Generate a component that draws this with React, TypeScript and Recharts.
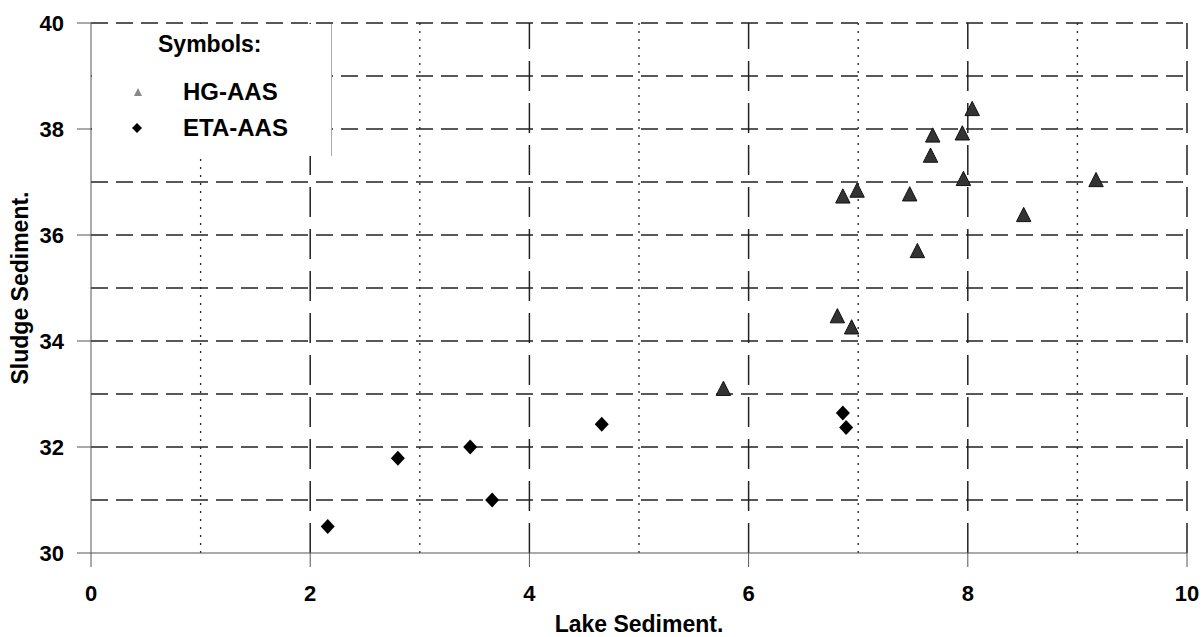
import React from "react";
import { ScatterChart, Scatter, XAxis, YAxis, ReferenceLine } from "recharts";

const hgX = [5.77, 6.81, 6.94, 6.86, 6.99, 7.47, 7.54, 7.66, 7.68, 7.95, 7.96, 8.04, 8.51, 9.17];
const hgY = [33.1, 34.47, 34.26, 36.73, 36.84, 36.77, 35.7, 37.5, 37.88, 37.92, 37.06, 38.38, 36.38, 37.04];
const etaX = [2.16, 2.8, 3.46, 3.66, 4.66, 6.86, 6.89];
const etaY = [30.5, 31.79, 32.0, 31.0, 32.43, 32.64, 32.37];

const xTicks = [0, 2, 4, 6, 8, 10];
const yTicks = [30, 32, 34, 36, 38, 40];
const majorX = [2, 4, 6, 8, 10];
const minorX = [1, 3, 5, 7, 9];
const gridY = [31, 32, 33, 34, 35, 36, 37, 38, 39, 40];

const xLabel = "Lake Sediment.";
const yLabel = "Sludge Sediment.";
const legendTitle = "Symbols:";
const seriesNames = ["HG-AAS", "ETA-AAS"];

const hgData = hgX.map((x, i) => ({ x, y: hgY[i] }));
const etaData = etaX.map((x, i) => ({ x, y: etaY[i] }));

const FONT = "'Liberation Sans', Arial, sans-serif";

const Triangle = (props: any) => {
  const { cx, cy } = props;
  if (cx == null || cy == null) return null;
  const h = 7.5;
  const w = 7.2;
  return (
    <polygon
      points={`${cx},${cy - h} ${cx + w},${cy + h * 0.9} ${cx - w},${cy + h * 0.9}`}
      fill="#333"
      stroke="#111"
      strokeWidth={1}
    />
  );
};

const Diamond = (props: any) => {
  const { cx, cy } = props;
  if (cx == null || cy == null) return null;
  const w = 7;
  const h = 7.5;
  return (
    <polygon
      points={`${cx},${cy - h} ${cx + w},${cy} ${cx},${cy + h} ${cx - w},${cy}`}
      fill="#000"
    />
  );
};

const tickStyle = { fontFamily: FONT, fontSize: 22, fontWeight: 700, fill: "#000" };
const titleStyle = { fontFamily: FONT, fontSize: 23, fontWeight: 700, fill: "#000" };

export default function App() {
  return (
    <div style={{ position: "absolute", left: 0, top: 0, width: 1202, height: 637, background: "#fff" }}>
      <ScatterChart width={1202} height={637} margin={{ top: 23, right: 15, bottom: 34, left: 0 }}>
        <XAxis
          type="number"
          dataKey="x"
          domain={[0, 10]}
          ticks={xTicks}
          height={50}
          tickSize={14}
          tickMargin={18}
          tick={tickStyle}
          stroke="#555"
          tickLine={{ stroke: "#555" }}
          label={{ value: xLabel, position: "bottom", offset: 13, style: { ...titleStyle } }}
        />
        <YAxis
          type="number"
          dataKey="y"
          domain={[30, 40]}
          ticks={yTicks}
          width={91}
          tickSize={14}
          tickMargin={13}
          tick={tickStyle}
          stroke="#555"
          tickLine={{ stroke: "#555" }}
          label={{ value: yLabel, angle: -90, position: "insideLeft", offset: 20, style: { ...titleStyle, textAnchor: "middle" } }}
        />
        {gridY.map((v) => (
          <ReferenceLine key={"h" + v} y={v} stroke="#222" strokeWidth={1.3} strokeDasharray="17 8" />
        ))}
        {minorX.map((v) => (
          <ReferenceLine key={"mx" + v} x={v} stroke="#222" strokeWidth={1.3} strokeDasharray="2 6" />
        ))}
        {majorX.map((v) => (
          <ReferenceLine key={"Mx" + v} x={v} stroke="#222" strokeWidth={1.5} strokeDasharray="30 12" />
        ))}
        <Scatter name={seriesNames[0]} data={hgData} shape={Triangle} isAnimationActive={false} />
        <Scatter name={seriesNames[1]} data={etaData} shape={Diamond} isAnimationActive={false} />
      </ScatterChart>
      <div
        style={{
          position: "absolute",
          left: 92,
          top: 24,
          width: 239,
          height: 132,
          background: "#fff",
          borderRight: "1px solid #aaa",
          fontFamily: FONT,
          fontSize: 23,
          fontWeight: 700,
          color: "#000",
        }}
      >
        <div style={{ position: "absolute", left: 66, top: 6, lineHeight: "28px" }}>{legendTitle}</div>
        <svg style={{ position: "absolute", left: 40, top: 62 }} width={12} height={12}>
          <polygon points="6,2 10,10 2,10" fill="#888" />
        </svg>
        <div style={{ position: "absolute", left: 91, top: 54, lineHeight: "28px", fontSize: 24 }}>{seriesNames[0]}</div>
        <svg style={{ position: "absolute", left: 39, top: 98 }} width={12} height={12}>
          <polygon points="6,1 11,6 6,11 1,6" fill="#000" />
        </svg>
        <div style={{ position: "absolute", left: 91, top: 90, lineHeight: "28px", fontSize: 24 }}>{seriesNames[1]}</div>
      </div>
    </div>
  );
}
